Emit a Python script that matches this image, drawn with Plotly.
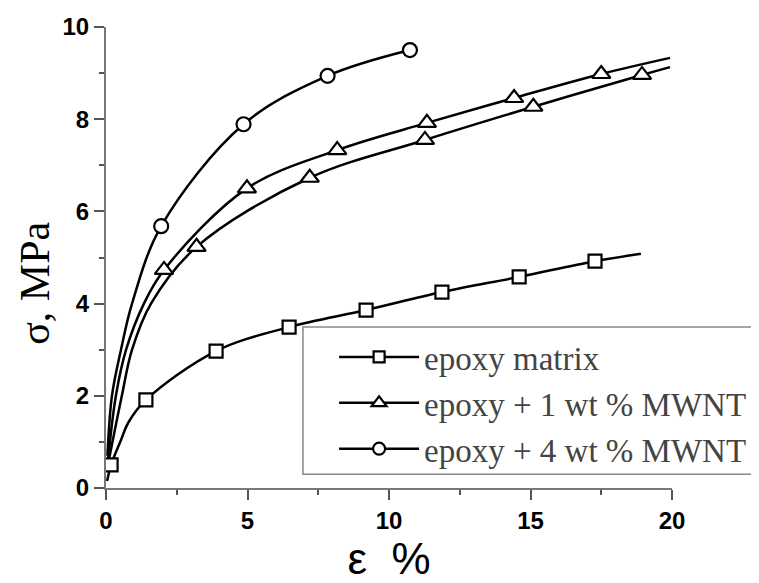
import plotly.graph_objects as go

# ---- data ----
# epoxy matrix (squares)
sq_line_x = [0.04, 0.18, 0.53, 0.78, 1.41, 3.89, 6.47, 9.19, 11.87, 14.6, 17.28, 18.9]
sq_line_y = [0.15, 0.5, 1.04, 1.41, 1.91, 2.97, 3.49, 3.86, 4.25, 4.58, 4.92, 5.08]
sq_mark_x = [0.18, 1.41, 3.89, 6.47, 9.19, 11.87, 14.6, 17.28]
sq_mark_y = [0.5, 1.91, 2.97, 3.49, 3.86, 4.25, 4.58, 4.92]

# epoxy + 1 wt % MWNT (triangles, two runs)
triA_line_x = [0.07, 0.35, 0.71, 1.34, 2.05, 4.98, 8.17, 11.34, 14.42, 17.5, 19.93]
triA_line_y = [0.6, 2.0, 3.0, 4.0, 4.73, 6.5, 7.33, 7.92, 8.46, 8.98, 9.33]
triA_mark_x = [2.05, 4.98, 8.17, 11.34, 14.42, 17.5]
triA_mark_y = [4.73, 6.5, 7.33, 7.92, 8.46, 8.98]

triB_line_x = [0.1, 0.56, 0.92, 1.59, 3.2, 7.2, 11.27, 15.1, 18.94, 19.93]
triB_line_y = [0.6, 2.0, 3.0, 4.0, 5.23, 6.73, 7.55, 8.27, 8.96, 9.13]
triB_mark_x = [3.2, 7.2, 11.27, 15.1, 18.94]
triB_mark_y = [5.23, 6.73, 7.55, 8.27, 8.96]

# epoxy + 4 wt % MWNT (circles)
ci_line_x = [0.05, 0.21, 0.53, 0.92, 1.95, 4.86, 7.83, 10.74]
ci_line_y = [0.7, 2.0, 3.0, 4.0, 5.68, 7.89, 8.94, 9.5]
ci_mark_x = [1.95, 4.86, 7.83, 10.74]
ci_mark_y = [5.68, 7.89, 8.94, 9.5]

series_names = ["epoxy matrix", "epoxy + 1 wt % MWNT", "epoxy + 4 wt % MWNT"]

LINE = dict(color="black", width=2.5, shape="spline", smoothing=1.0)

fig = go.Figure()

curves = [
    (sq_line_x, sq_line_y, sq_mark_x, sq_mark_y, "square", 13),
    (triA_line_x, triA_line_y, triA_mark_x, triA_mark_y, "triangle-up", 16),
    (triB_line_x, triB_line_y, triB_mark_x, triB_mark_y, "triangle-up", 16),
    (ci_line_x, ci_line_y, ci_mark_x, ci_mark_y, "circle", 14),
]
for lx, ly, mx, my, sym, sz in curves:
    fig.add_trace(go.Scatter(x=lx, y=ly, mode="lines", line=LINE,
                             showlegend=False, hoverinfo="skip"))
for lx, ly, mx, my, sym, sz in curves:
    fig.add_trace(go.Scatter(x=mx, y=my, mode="markers", showlegend=False,
                             marker=dict(symbol=sym, size=sz, color="white",
                                         line=dict(color="black", width=2.2))))

# legend entries
for name, sym, sz in zip(series_names, ["square", "triangle-up", "circle"], [11, 13, 12]):
    fig.add_trace(go.Scatter(x=[None], y=[None], mode="lines+markers", name=name,
                             line=dict(color="black", width=2.5),
                             marker=dict(symbol=sym, size=sz, color="white",
                                         line=dict(color="black", width=2.2))))

axis_common = dict(
    showgrid=False, zeroline=False, showline=True, linecolor="#777", linewidth=2,
    ticks="outside", ticklen=10, tickwidth=2, tickcolor="#555",
    tickfont=dict(family="Liberation Sans", size=24, color="black", weight="bold"),
    mirror=False,
)

fig.update_layout(
    width=751, height=575,
    margin=dict(l=98, r=87, t=19, b=95, autoexpand=False),
    paper_bgcolor="white", plot_bgcolor="white",
    xaxis=dict(range=[0, 20], dtick=5, tick0=0,
               minor=dict(ticks="outside", ticklen=5, dtick=2.5, tickcolor="#555", tickwidth=2),
               title=dict(text="ε  %", font=dict(family="Liberation Sans", size=44, color="black"),
                          standoff=2),
               **axis_common),
    yaxis=dict(range=[0, 10], dtick=2, tick0=0,
               minor=dict(ticks="outside", ticklen=5, dtick=1, tickcolor="#555", tickwidth=2),
               **axis_common),
    legend=dict(x=0.403, y=0.345, xanchor="left", yanchor="top",
                bgcolor="rgba(0,0,0,0)", borderwidth=0,
                font=dict(family="Liberation Serif", size=33, color="#444"),
                itemwidth=80, tracegroupgap=0),
    shapes=[dict(type="rect", xref="paper", yref="paper", x0=0.348, x1=1.2, y0=0.030, y1=0.349,
                 line=dict(color="#888", width=1.5), fillcolor="white", layer="below")],
    annotations=[dict(text="σ, MPa", xref="paper", yref="paper", x=-0.1254, y=0.443,
                      xanchor="center", yanchor="middle", textangle=-90, showarrow=False,
                      font=dict(family="Liberation Serif", size=42, color="black"))],
)

fig.write_html("out.html")
